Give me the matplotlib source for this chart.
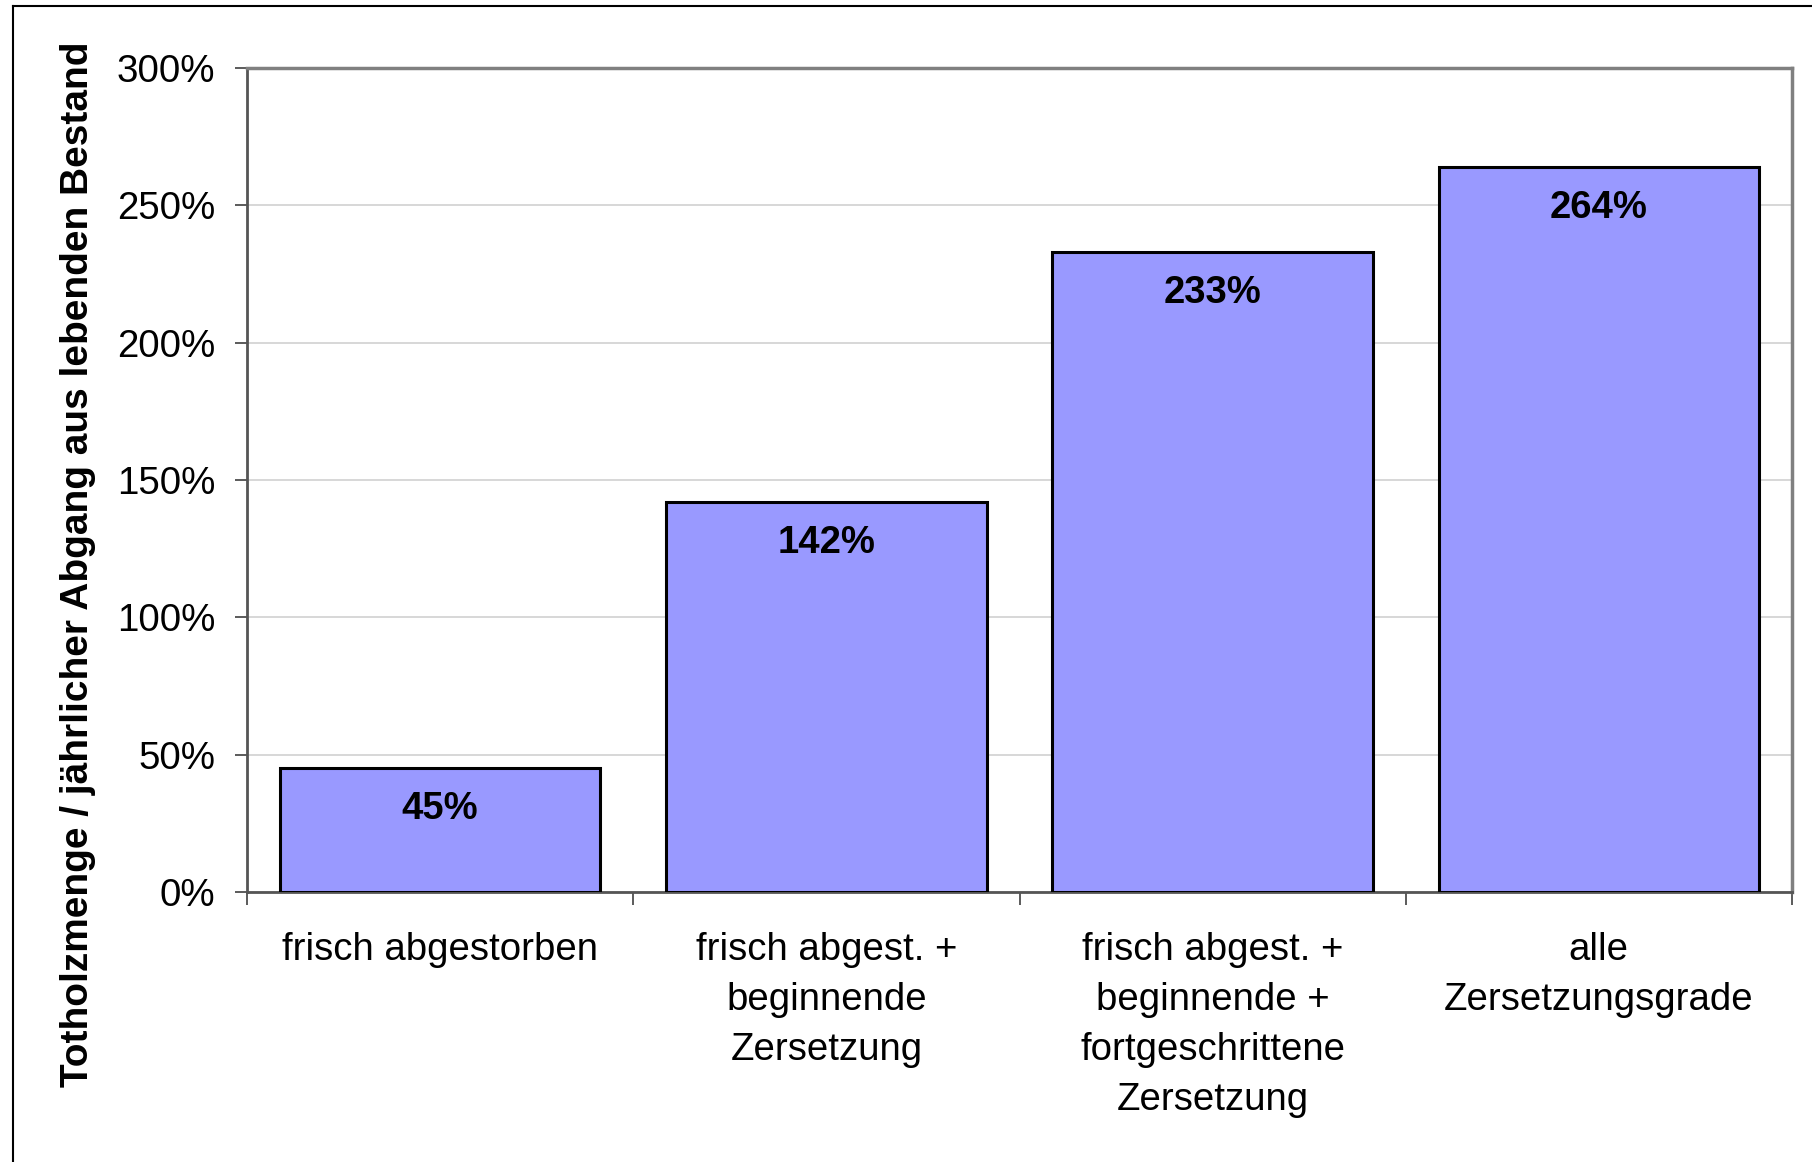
import matplotlib
matplotlib.use("Agg")
import matplotlib.pyplot as plt
from matplotlib.lines import Line2D
import numpy as np

categories = ["frisch abgestorben",
              "frisch abgest. +\nbeginnende\nZersetzung",
              "frisch abgest. +\nbeginnende +\nfortgeschrittene\nZersetzung",
              "alle\nZersetzungsgrade"]
values = [45, 142, 233, 264]
value_labels = ["45%", "142%", "233%", "264%"]
yticks = [0, 50, 100, 150, 200, 250, 300]
ytick_labels = ["0%", "50%", "100%", "150%", "200%", "250%", "300%"]
ylabel = "Totholzmenge / jährlicher Abgang aus lebenden Bestand"

plt.rcParams['font.family'] = ['Liberation Sans', 'DejaVu Sans']

W, H = 1812, 1162
fig = plt.figure(figsize=(W/100, H/100), dpi=100)
ax = fig.add_axes([247/W, 1 - 892/H, (1792-247)/W, (892-68)/H])

x = np.arange(len(categories))
ax.bar(x, values, width=0.83, color="#9999FF", edgecolor="black", linewidth=2.2, zorder=3)
ax.set_xlim(-0.5, len(categories) - 0.5)
ax.set_ylim(0, 300)

for xi, v, lab in zip(x, values, value_labels):
    ax.annotate(lab, (xi, v), xytext=(0, -29.5), textcoords="offset points",
                ha="center", va="center", fontsize=27.5, fontweight="bold", zorder=4)

ax.set_yticks(yticks)
ax.set_yticklabels(ytick_labels, fontsize=27.7)
ax.tick_params(axis="y", length=9, width=1.2, color="#404040", pad=14)
ax.yaxis.grid(True, color="#d4d4d4", linewidth=1.3, zorder=0)
ax.set_axisbelow(True)

ax.set_xticks(x)
ax.set_xticklabels(categories, fontsize=27.6, linespacing=1.5, va="top")
ax.tick_params(axis="x", which="major", length=0, pad=29)
ax.set_xticks(np.arange(-0.5, len(categories)), minor=True)
ax.tick_params(axis="x", which="minor", length=9, width=1.2, color="#404040")

for side in ["top", "right"]:
    ax.spines[side].set_color("#808080")
    ax.spines[side].set_linewidth(2.5)
ax.spines["left"].set_color("#555555")
ax.spines["left"].set_linewidth(2)
ax.spines["bottom"].set_color("#555555")
ax.spines["bottom"].set_linewidth(2)

fig.text(78/W, 1 - 564/H, ylabel, rotation=90, ha="center", va="center",
         fontsize=28, fontweight="bold")

# outer chart frame (left and top visible)
fig.add_artist(Line2D([13/W, 13/W], [0, 1 - 6/H], color="black", linewidth=1.5))
fig.add_artist(Line2D([13/W, 1], [1 - 6/H, 1 - 6/H], color="black", linewidth=1.5))

fig.savefig("out.png", dpi=100)
